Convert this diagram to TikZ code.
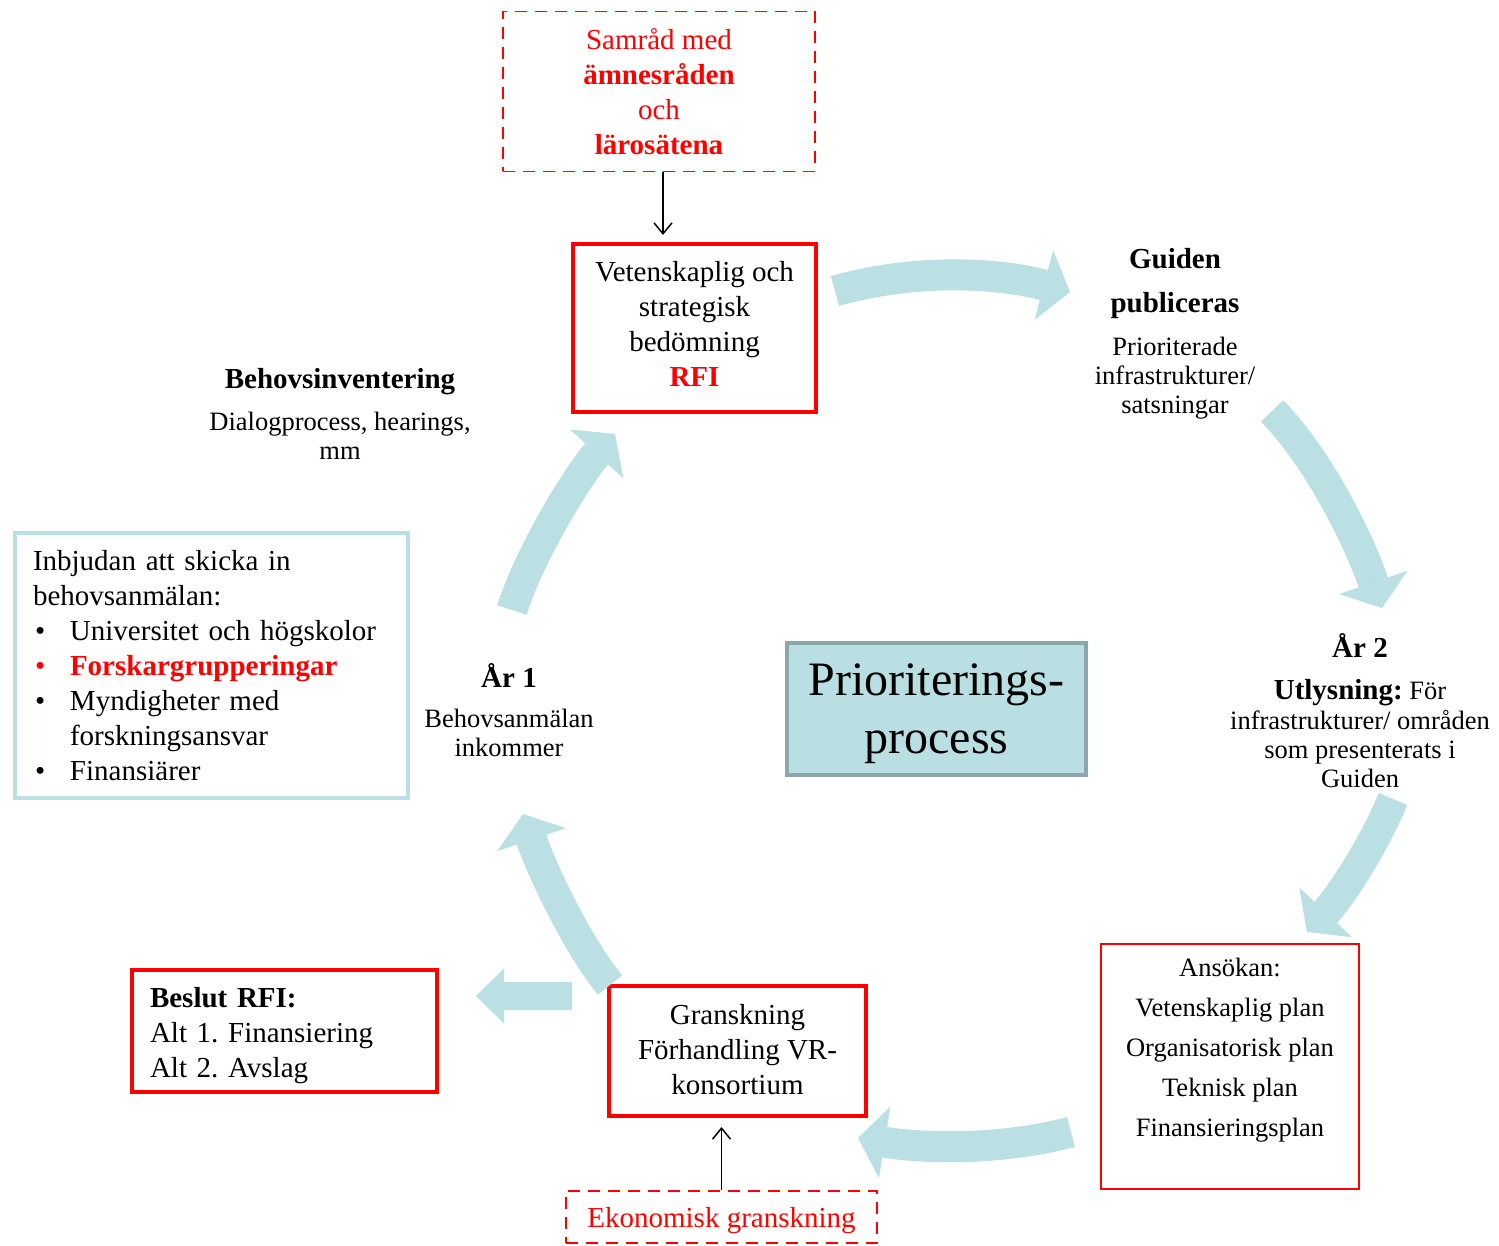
\documentclass[tikz,border=0pt]{standalone}
\usepackage{fontspec}
\setmainfont{Liberation Serif}
\usetikzlibrary{arrows.meta}
\definecolor{arrowc}{RGB}{187,224,227}
\definecolor{priofill}{RGB}{185,223,227}
\definecolor{prioline}{RGB}{138,168,171}
\definecolor{vrred}{RGB}{255,0,0}
\frenchspacing
\begin{document}
\begin{tikzpicture}[x=1pt,y=-1pt,
  redbox/.style={draw=vrred, line width=4pt, rectangle, inner sep=0pt, align=center},
  thinredbox/.style={draw=vrred, line width=1.5pt, rectangle, inner sep=0pt},
  dashbox/.style={draw=vrred, line width=1.8pt, dash pattern=on 12pt off 8pt, rectangle, inner sep=0pt, align=center, text=vrred},
  fbig/.style={font=\fontsize{29}{35}\selectfont},
  fsmall/.style={font=\fontsize{26.5}{29}\selectfont},
  blk/.style={draw=arrowc, line width=31pt, -{Triangle[length=27pt,width=72pt,line width=0.5pt]}},
  blkstraight/.style={draw=arrowc, line width=28pt, -{Triangle[length=28pt,width=55pt,line width=0.5pt]}},
  thinarrow/.style={draw=black, line width=1.5pt, -{Straight Barb[length=11pt,width=18pt]}},
  lbl/.style={align=center, inner sep=0pt, fsmall},
]
\useasboundingbox (0,0) rectangle (1499,1246);

% boxes
\node[dashbox, fbig, minimum width=312pt, minimum height=160pt] (samrad) at (659,91.5)
  {Samråd med\\\textbf{ämnesråden}\\och\\\textbf{lärosätena}};
\node[redbox, fbig, minimum width=243pt, minimum height=168pt, text depth=8pt] (vet) at (694.5,328)
  {Vetenskaplig och\\strategisk\\bedömning\\\textcolor{vrred}{\textbf{RFI}}};
\node[redbox, fbig, minimum width=257pt, minimum height=130pt, text depth=4pt] (gransk) at (737.5,1051)
  {Granskning\\Förhandling VR-\\konsortium};
\node[redbox, fbig, align=left, inner xsep=18pt, text width=269pt, minimum height=122pt, text depth=68pt] (beslut) at (284.5,1031)
  {\textbf{Beslut RFI:}\\Alt 1. Finansiering\\Alt 2. Avslag};
\node[draw=arrowc, line width=4pt, rectangle, fbig, align=left, inner xsep=18pt, inner ysep=0pt,
      text width=357pt, minimum height=265pt] (inbj) at (211.5,665.5)
  {Inbjudan att skicka in\\behovsanmälan:\\
   \hspace*{2pt}\makebox[35pt][l]{\textbullet}Universitet och högskolor\\
   {\color{vrred}\hspace*{2pt}\makebox[35pt][l]{\textbullet}\textbf{Forskargrupperingar}}\\
   \hspace*{2pt}\makebox[35pt][l]{\textbullet}Myndigheter med\\
   \hspace*{37pt}forskningsansvar\\
   \hspace*{2pt}\makebox[35pt][l]{\textbullet}Finansiärer};
\node[thinredbox, minimum width=258pt, minimum height=245pt] (ans) at (1230,1066.5) {};
\node[align=center, inner sep=0pt, font=\fontsize{26.5}{40}\selectfont] (ansT) at (1230,1050)
  {Ansökan:\\Vetenskaplig plan\\Organisatorisk plan\\Teknisk plan\\Finansieringsplan};
\node[dashbox, fbig, minimum width=311pt, minimum height=52pt, text depth=-3.7pt] (ekon) at (721.5,1217)
  {Ekonomisk granskning};
\node[rectangle, fill=priofill, draw=prioline, line width=4pt, align=center, inner sep=0pt,
      minimum width=299pt, minimum height=132pt, text depth=-1.6pt, font=\fontsize{48}{58}\selectfont] (prio) at (936.5,709)
  {Prioriterings-\\process};

% labels
\node[lbl] (guide) at (1175,334)
  {{\fontsize{29}{29}\selectfont\bfseries Guiden}\\[15pt]{\fontsize{29}{29}\selectfont\bfseries publiceras}\\[14pt]Prioriterade\\infrastrukturer/\\satsningar};
\node[lbl] (ar2) at (1360,711)
  {{\fontsize{29}{29}\selectfont\bfseries År 2}\\[13pt]{\fontsize{29}{29}\selectfont\bfseries Utlysning:} För\\[1pt]infrastrukturer/ områden\\som presenterats i\\Guiden};
\node[lbl] (ar1) at (509,710.5)
  {{\fontsize{29}{29}\selectfont\bfseries År 1}\\[11pt]Behovsanmälan\\inkommer};
\node[lbl] (beh) at (340,414)
  {{\fontsize{29}{29}\selectfont\bfseries Behovsinventering}\\[13pt]Dialogprocess, hearings,\\mm};

% block arrows
\coordinate (a1s) at (835,291);  \coordinate (a1e) at (1070,292);
\coordinate (a2s) at (1272,411); \coordinate (a2e) at (1382,608);
\coordinate (a3s) at (1393,799); \coordinate (a3e) at (1307,932);
\coordinate (a4s) at (1071,1132); \coordinate (a4e) at (858,1138);
\coordinate (a5s) at (610,985);  \coordinate (a5e) at (523,814);
\coordinate (a6s) at (512,610);  \coordinate (a6e) at (615,434);
\coordinate (a7s) at (572,996);  \coordinate (a7e) at (476,996);
\draw[blk] (a1s) .. controls (912,269) and (995,272) .. (a1e);
\draw[blk] (a2s) .. controls (1314,453) and (1356,532) .. (a2e);
\draw[blk] (a3s) .. controls (1374,845) and (1341,896) .. (a3e);
\draw[blk] (a4s) .. controls (1003,1150) and (927,1149) .. (a4e);
\draw[blk] (a5s) .. controls (578,946) and (542,871) .. (a5e);
\draw[blk] (a6s) .. controls (530,552) and (581,471) .. (a6e);
\draw[blkstraight] (a7s) -- (a7e);

% thin arrows
\coordinate (t1) at (663,235);
\coordinate (t2) at (721.5,1127);
\draw[thinarrow] ([xshift=4pt]samrad.south) -- (t1);
\draw[thinarrow] (ekon.north) -- (t2);
\end{tikzpicture}
\end{document}
